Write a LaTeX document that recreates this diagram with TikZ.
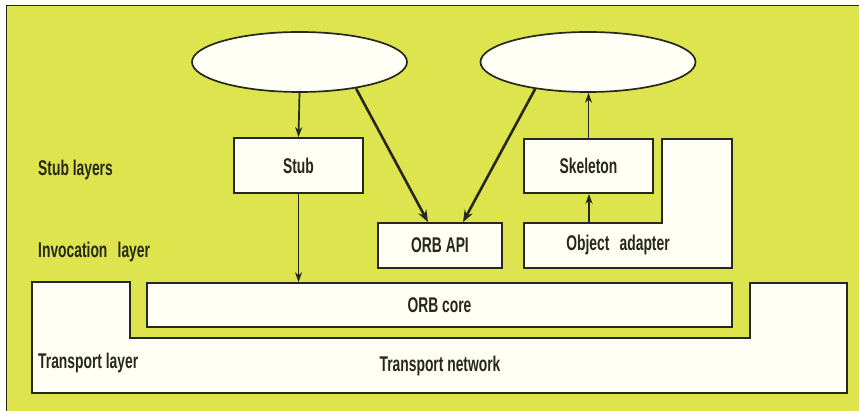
\documentclass[tikz,border=0pt]{standalone}
\usepackage{fontspec}
\setmainfont{Liberation Sans}[FakeStretch=0.65]
\usetikzlibrary{arrows.meta,shapes.geometric}
\definecolor{bgyellow}{RGB}{222,228,78}
\definecolor{boxfill}{RGB}{255,255,246}
\definecolor{ink}{RGB}{38,40,28}
\tikzset{
  lbl/.style={font=\fontsize{21.3}{24}\selectfont\bfseries, text=ink, inner sep=0pt},
  boxnode/.style={draw=ink, line width=1.7pt, fill=boxfill, rectangle, inner sep=0pt, lbl},
  ell/.style={draw=ink, line width=1.7pt, fill=boxfill, ellipse, inner sep=0pt, minimum width=215pt, minimum height=60pt},
  thinarrow/.style={draw=ink, line width=1.7pt, -{Stealth[length=10pt,width=7pt]}},
  thickarrow/.style={draw=ink, line width=2.6pt, -{Stealth[length=12pt,width=9pt]}},
  shapeline/.style={draw=ink, line width=1.7pt, fill=boxfill}
}
\begin{document}
\begin{tikzpicture}[x=1pt,y=-1pt]
\useasboundingbox (0,0) rectangle (859,411);
\fill[white!96!bgyellow] (0,0) rectangle (859,411);
\fill[bgyellow] (6,6) rectangle (859,411);
\draw[ink, line width=1pt] (6,411) -- (6,6) -- (859,6);

% transport network shape
\path[shapeline] (32,282) -- (130,282) -- (130,338) -- (750,338) -- (750,283) -- (847,283) -- (847,393) -- (32,393) -- cycle;
\node[lbl] (tnet) at (440,366) {Transport network};

% object adapter shape
\path[shapeline] (524,223) -- (662,223) -- (662,139) -- (732,139) -- (732,268) -- (524,268) -- cycle;
\node[lbl] (oa) at (618,245) {Object\hspace{0.3em} adapter};
\coordinate (oatop) at (589,223);

% ellipses
\node[ell] (e1) at (299.5,62) {};
\node[ell] (e2) at (588,62) {};

% boxes
\node[boxnode, minimum width=129pt, minimum height=55pt] (stub) at (298.5,165.5) {Stub};
\node[boxnode, minimum width=129pt, minimum height=54pt] (skel) at (588.5,166) {Skeleton};
\node[boxnode, minimum width=124pt, minimum height=45pt] (api) at (440,245.5) {ORB API};
\node[boxnode, minimum width=585pt, minimum height=44pt] (core) at (439.5,305) {ORB core};

% layer labels
\node[lbl, anchor=base west] (l1) at (38,176) {Stub layers};
\node[lbl, anchor=base west] (l2) at (38,258) {Invocation\hspace{0.3em} layer};
\node[lbl, anchor=base west] (l3) at (38,369) {Transport layer};

% connectors
\draw[thinarrow] (e1.south) -- (stub.north);
\draw[thinarrow] (stub.south) -- (stub.south |- core.north);
\draw[thinarrow] (skel.north) -- (skel.north |- e2.south);
\draw[thinarrow] (oatop) -- (oatop |- skel.south);
\draw[thickarrow] (e1.-25) -- ([xshift=-12pt]api.north);
\draw[thickarrow] (e2.-153) -- ([xshift=23pt]api.north);
\end{tikzpicture}
\end{document}
